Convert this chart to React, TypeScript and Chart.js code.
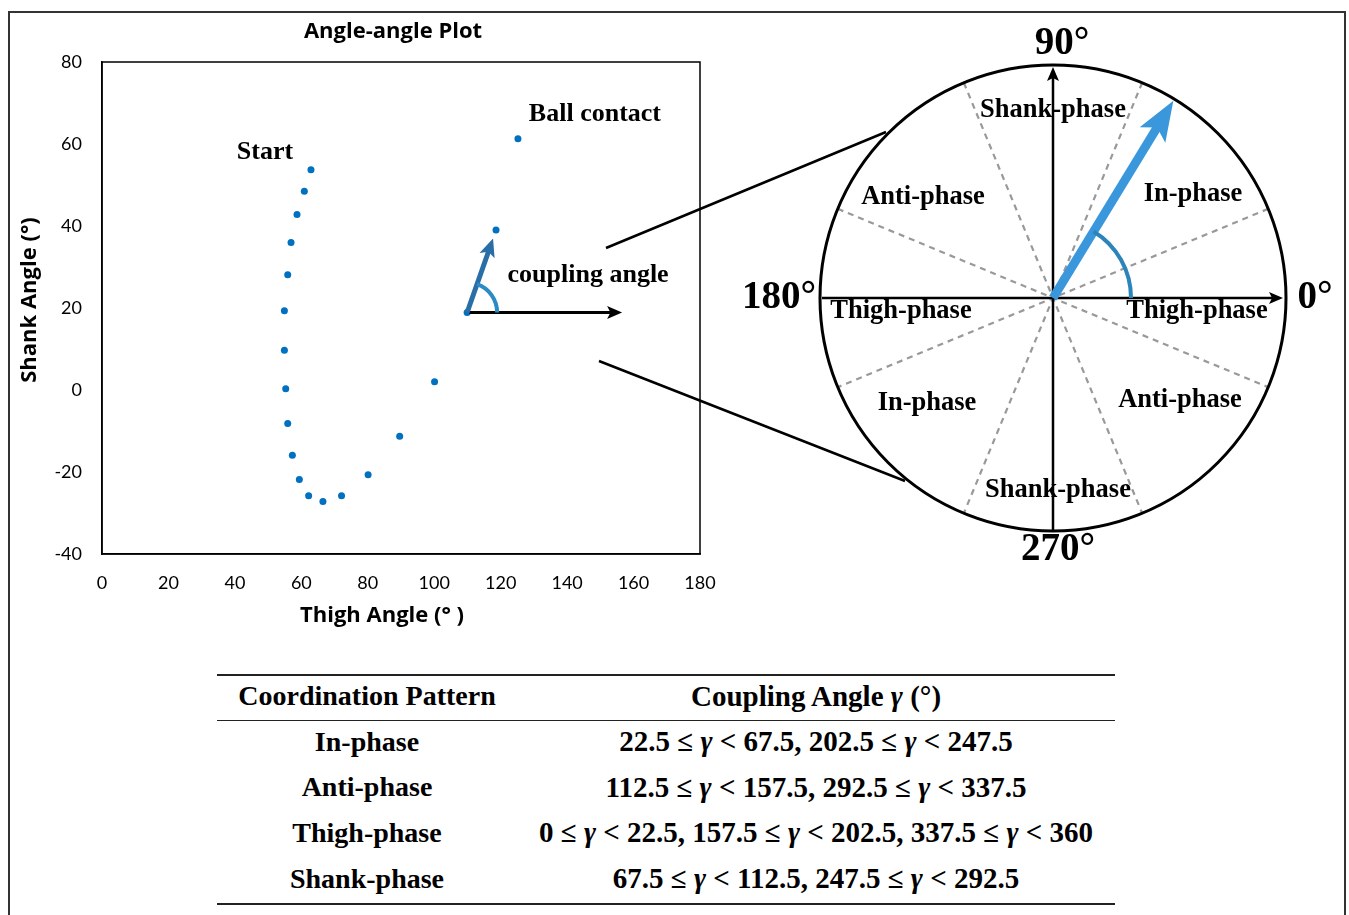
import React, { useEffect, useRef } from 'react';
import { Chart, registerables } from 'chart.js';

Chart.register(...registerables);

// ---- Data ----
const thighAngle = [62.9, 60.9, 58.7, 56.9, 55.9, 54.9, 54.9, 55.3, 55.9, 57.3, 59.4, 62.2, 66.5, 72.1, 80.1, 89.6, 100.1, 109.9, 118.6, 125.2];
const shankAngle = [53.7, 48.5, 42.8, 36.0, 28.1, 19.3, 9.7, 0.3, -8.2, -15.9, -21.8, -25.8, -27.2, -25.8, -20.7, -11.3, 2.0, 18.9, 39.0, 61.3];
const xRange = [0, 180];
const yRange = [-40, 80];
const tickStep = 20;

const sectorBoundaries = [22.5, 67.5, 112.5, 157.5];
const cardinalLabels = ['0°', '90°', '180°', '270°'];
const phaseLabels = ['Thigh-phase', 'In-phase', 'Shank-phase', 'Anti-phase', 'Thigh-phase', 'In-phase', 'Shank-phase', 'Anti-phase'];
const exampleCouplingAngle = 58.6;

const tablePatterns = ['In-phase', 'Anti-phase', 'Thigh-phase', 'Shank-phase'];
const tableRanges = [
  '22.5 ≤ γ < 67.5, 202.5 ≤ γ < 247.5',
  '112.5 ≤ γ < 157.5, 292.5 ≤ γ < 337.5',
  '0 ≤ γ < 22.5, 157.5 ≤ γ < 202.5, 337.5 ≤ γ < 360',
  '67.5 ≤ γ < 112.5, 247.5 ≤ γ < 292.5',
];

const SERIF = '"Liberation Serif", "Times New Roman", serif';
const SANS = 'Lato, "Open Sans", sans-serif';
const SANS_BOLD = '"Open Sans", "Noto Sans", sans-serif';

function drawArrow(ctx: CanvasRenderingContext2D, x1: number, y1: number, x2: number, y2: number, w: number, headLen: number, headW: number, color: string) {
  const ang = Math.atan2(y2 - y1, x2 - x1);
  const c = Math.cos(ang), s = Math.sin(ang);
  const bx = x2 - headLen * c, by = y2 - headLen * s;
  const nx = -s, ny = c;
  ctx.strokeStyle = color;
  ctx.lineWidth = w;
  ctx.lineCap = 'butt';
  ctx.setLineDash([]);
  ctx.beginPath();
  ctx.moveTo(x1, y1);
  ctx.lineTo(x2 - headLen * 0.7 * c, y2 - headLen * 0.7 * s);
  ctx.stroke();
  ctx.fillStyle = color;
  ctx.beginPath();
  ctx.moveTo(x2, y2);
  ctx.lineTo(bx + nx * headW / 2, by + ny * headW / 2);
  ctx.lineTo(x2 - headLen * 0.78 * c, y2 - headLen * 0.78 * s);
  ctx.lineTo(bx - nx * headW / 2, by - ny * headW / 2);
  ctx.closePath();
  ctx.fill();
}

const overlayPlugin = {
  id: 'overlay',
  afterDraw(chart: any) {
    const { ctx, chartArea: a } = chart;
    const xs = chart.scales.x, ys = chart.scales.y;
    ctx.save();
    // plot frame
    ctx.strokeStyle = '#000';
    ctx.lineWidth = 1.5;
    ctx.strokeRect(a.left, a.top, a.right - a.left, a.bottom - a.top);

    // title and axis titles
    ctx.fillStyle = '#000';
    ctx.font = `bold 22px ${SANS_BOLD}`;
    ctx.textAlign = 'center';
    ctx.textBaseline = 'middle';
    ctx.fillText('Angle-angle Plot', 393, 32);
    ctx.fillText('Thigh Angle (° )', 382, 616);
    ctx.save();
    ctx.translate(30, 300);
    ctx.rotate(-Math.PI / 2);
    ctx.fillText('Shank Angle (°)', 0, 0);
    ctx.restore();

    const px = (i: number) => [xs.getPixelForValue(thighAngle[i]), ys.getPixelForValue(shankAngle[i])];
    const n = thighAngle.length;
    const [sx, sy] = px(0);
    const [ex, ey] = px(n - 1);
    const [ax, ay] = px(n - 3);
    const [bx, by] = px(n - 2);

    ctx.font = `bold 26px ${SERIF}`;
    ctx.fillText('Start', sx - 46, sy - 18);
    ctx.fillText('Ball contact', ex + 77, ey - 24);
    ctx.fillText('coupling angle', ax + 121, ay - 37);

    // coupling-angle illustration in the plot
    drawArrow(ctx, ax + 2, ay, ax + 155, ay, 3, 15, 13, '#000');
    const ang = Math.atan2(by - ay, bx - ax);
    const len = Math.hypot(bx - ax, by - ay) - 9;
    drawArrow(ctx, ax, ay, ax + len * Math.cos(ang), ay + len * Math.sin(ang), 5, 18, 16, '#2a6ea8');
    ctx.strokeStyle = '#2a8cc4';
    ctx.lineWidth = 4;
    ctx.beginPath();
    ctx.arc(ax, ay, 30, ang, 0);
    ctx.stroke();

    // connector lines to the circle
    ctx.strokeStyle = '#000';
    ctx.lineWidth = 2.5;
    ctx.beginPath();
    ctx.moveTo(606, 248); ctx.lineTo(886, 132);
    ctx.moveTo(599, 361); ctx.lineTo(905, 481);
    ctx.stroke();

    // circle diagram
    const cx = 1053, cy = 298, r = 233;
    const dir = (deg: number) => [Math.cos(deg * Math.PI / 180), -Math.sin(deg * Math.PI / 180)];
    ctx.strokeStyle = '#999';
    ctx.lineWidth = 2.2;
    ctx.setLineDash([6, 5]);
    sectorBoundaries.forEach((deg) => {
      const [dx, dy] = dir(deg);
      ctx.beginPath();
      ctx.moveTo(cx + dx * r, cy + dy * r);
      ctx.lineTo(cx - dx * r, cy - dy * r);
      ctx.stroke();
    });
    ctx.setLineDash([]);
    ctx.strokeStyle = '#000';
    ctx.lineWidth = 3;
    ctx.beginPath();
    ctx.arc(cx, cy, r, 0, Math.PI * 2);
    ctx.stroke();
    drawArrow(ctx, cx - r + 2, cy, cx + r - 3, cy, 2.5, 14, 12, '#000');
    drawArrow(ctx, cx, cy + r, cx, cy - r + 2, 2.5, 14, 12, '#000');

    // example coupling vector
    const [ux, uy] = dir(exampleCouplingAngle);
    drawArrow(ctx, cx, cy, cx + ux * (r - 2), cy + uy * (r - 2), 9, 40, 30, '#3a97dc');
    ctx.strokeStyle = '#2b84ba';
    ctx.lineWidth = 4;
    ctx.beginPath();
    ctx.arc(cx, cy, 78, -exampleCouplingAngle * Math.PI / 180, 0);
    ctx.stroke();

    // phase labels
    const phaseOffsets = [[144, 13], [140, -104], [0, -188], [-130, -101], [-152, 13], [-126, 105], [5, 192], [127, 102]];
    ctx.fillStyle = '#000';
    ctx.font = `bold 26.5px ${SERIF}`;
    phaseLabels.forEach((t, i) => ctx.fillText(t, cx + phaseOffsets[i][0], cy + phaseOffsets[i][1]));

    // cardinal angle labels
    const cardOffsets = [[262, 0], [9, -254], [-274, 0], [5, 252]];
    ctx.font = `bold 39px ${SERIF}`;
    cardinalLabels.forEach((t, i) => ctx.fillText(t, cx + cardOffsets[i][0], cy + cardOffsets[i][1]));
    ctx.restore();
  },
};

function RangeText({ text }: { text: string }) {
  const parts = text.split('γ');
  return (
    <>
      {parts.map((p, i) => (
        <React.Fragment key={i}>
          {p}
          {i < parts.length - 1 && <i>γ</i>}
        </React.Fragment>
      ))}
    </>
  );
}

export default function App() {
  const ref = useRef<HTMLCanvasElement>(null);

  useEffect(() => {
    if (!ref.current) return;
    const chart = new Chart(ref.current, {
      type: 'scatter',
      data: {
        datasets: [
          {
            data: thighAngle.map((x, i) => ({ x, y: shankAngle[i] })),
            backgroundColor: '#0070c0',
            borderColor: '#0070c0',
            pointRadius: 3.5,
            pointBorderWidth: 0,
          },
        ],
      },
      options: {
        responsive: false,
        animation: false,
        layout: { padding: { left: 0, right: 649, top: 62, bottom: 0 } },
        plugins: { legend: { display: false }, title: { display: false }, tooltip: { enabled: false } },
        scales: {
          x: {
            type: 'linear',
            min: xRange[0],
            max: xRange[1],
            grid: { display: false, drawTicks: false },
            border: { display: true, color: '#000', width: 1.5 },
            ticks: { stepSize: tickStep, color: '#000', padding: 18, font: { family: SANS, size: 18 } },
            title: { display: false },
            afterFit: (s: any) => { s.height = 86; },
          },
          y: {
            type: 'linear',
            min: yRange[0],
            max: yRange[1],
            grid: { display: false, drawTicks: false },
            border: { display: true, color: '#000', width: 1.5 },
            ticks: { stepSize: tickStep, color: '#000', padding: 20, font: { family: SANS, size: 18 } },
            title: { display: false },
            afterFit: (s: any) => { s.width = 102; },
          },
        },
      } as any,
      plugins: [overlayPlugin],
    });
    return () => chart.destroy();
  }, []);

  const cellFont: React.CSSProperties = { fontFamily: SERIF, fontWeight: 'bold', fontSize: 28, color: '#000' };

  return (
    <div style={{ position: 'absolute', left: 0, top: 0, width: 1349, height: 915, overflow: 'hidden', background: '#fff' }}>
      <div style={{ position: 'absolute', left: 8, top: 11, width: 1338, height: 960, border: '2px solid #333', boxSizing: 'border-box' }} />
      <canvas ref={ref} width={1349} height={640} style={{ position: 'absolute', left: 0, top: 0, display: 'block' }} />
      <div style={{ position: 'absolute', left: 217, top: 674, width: 898, borderTop: '2px solid #222', borderBottom: '2px solid #222', ...cellFont }}>
        <div style={{ display: 'flex', height: 45, alignItems: 'center', borderBottom: '1.5px solid #222', paddingBottom: 4, boxSizing: 'border-box' }}>
          <div style={{ width: 300, textAlign: 'center' }}>Coordination Pattern</div>
          <div style={{ width: 598, textAlign: 'center', fontSize: 29 }}>
            Coupling Angle <i>γ</i> (°)
          </div>
        </div>
        {tablePatterns.map((p, i) => (
          <div key={p} style={{ display: 'flex', height: 45.6, alignItems: 'center', paddingBottom: 4, boxSizing: 'border-box' }}>
            <div style={{ width: 300, textAlign: 'center' }}>{p}</div>
            <div style={{ width: 598, textAlign: 'center', fontSize: 29 }}>
              <RangeText text={tableRanges[i]} />
            </div>
          </div>
        ))}
      </div>
    </div>
  );
}
